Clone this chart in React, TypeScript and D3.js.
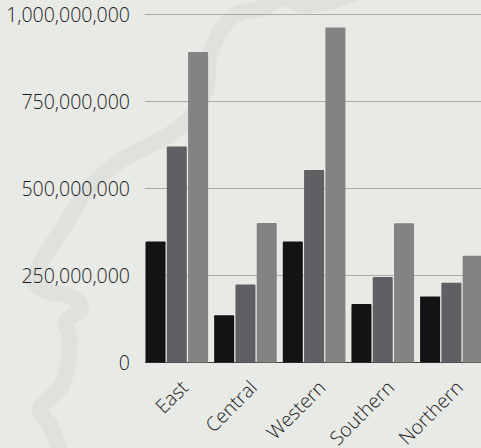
import React from "react";
import * as d3 from "d3";

const categories = ["East", "Central", "Western", "Southern", "Northern"];
const seriesA = [348, 136, 348, 168, 190].map((v) => v * 1e6);
const seriesB = [621, 224, 553, 246, 229].map((v) => v * 1e6);
const seriesC = [892, 401, 963, 400, 307].map((v) => v * 1e6);
const seriesList = [seriesA, seriesB, seriesC];
const seriesColors = ["#111314", "#5e6064", "#838383"];
const yTicks = [0, 250000000, 500000000, 750000000, 1000000000];
const riverMain: [number, number][] = [
  [292, -8], [265, 7], [235, 15], [218, 35], [209, 60], [207, 85], [190, 118], [165, 137], [117, 163], [90, 187], [65, 225], [38, 268], [34, 283], [50, 292], [72, 297], [81, 308], [66, 322], [70, 340], [62, 385], [40, 410], [50, 425], [60, 452],
];
const riverTop: [number, number][] = [[284, -4], [300, 5], [320, 4], [360, -8]];

const font = "'Open Sans', sans-serif";

export default function App() {
  const x0 = d3.scaleBand().domain(categories).range([145.5, 482.7]).paddingInner(0.088).paddingOuter(0);
  const x1 = d3.scaleBand().domain(["0", "1", "2"]).range([0, x0.bandwidth()]).paddingInner(0.06);
  const y = d3.scaleLinear().domain([0, 1000000000]).range([362.5, 14.5]);
  const river = d3.line().curve(d3.curveCatmullRom.alpha(0.5));
  return (
    <svg width={481} height={448} style={{ position: "fixed", left: 0, top: 0, background: "#e8eae6", display: "block" }}>
      <path d={river(riverMain) ?? ""} fill="none" stroke="#dfe1dd" strokeWidth={16} strokeLinejoin="round" />
      <path d={river(riverTop) ?? ""} fill="none" stroke="#dfe1dd" strokeWidth={16} strokeLinejoin="round" />
      {yTicks.map((t) => (
        <g key={t}>
          <line x1={145} x2={481} y1={y(t)} y2={y(t)} stroke={t === 0 ? "#444" : "#a9aba7"} strokeWidth={1} />
          <text x={130} y={y(t) + 7} textAnchor="end" fontFamily={font} fontSize={19.5} fontWeight={300} fill="#1c1c1c">
            {d3.format(",")(t)}
          </text>
        </g>
      ))}
      {categories.map((c, i) => (
        <g key={c}>
          {seriesList.map((s, j) => (
            <rect
              key={j}
              x={(x0(c) ?? 0) + (x1(String(j)) ?? 0)}
              y={y(s[i])}
              width={x1.bandwidth()}
              height={y(0) - y(s[i])}
              fill={seriesColors[j]}
              rx={1}
            />
          ))}
          <text
            transform={`translate(${(x0(c) ?? 0) + x0.bandwidth() / 2 + 1},${377}) rotate(-45)`}
            textAnchor="end"
            dominantBaseline="hanging"
            fontFamily={font}
            fontSize={19.5}
            fontWeight={300}
            fill="#1c1c1c"
          >
            {c}
          </text>
        </g>
      ))}
    </svg>
  );
}
